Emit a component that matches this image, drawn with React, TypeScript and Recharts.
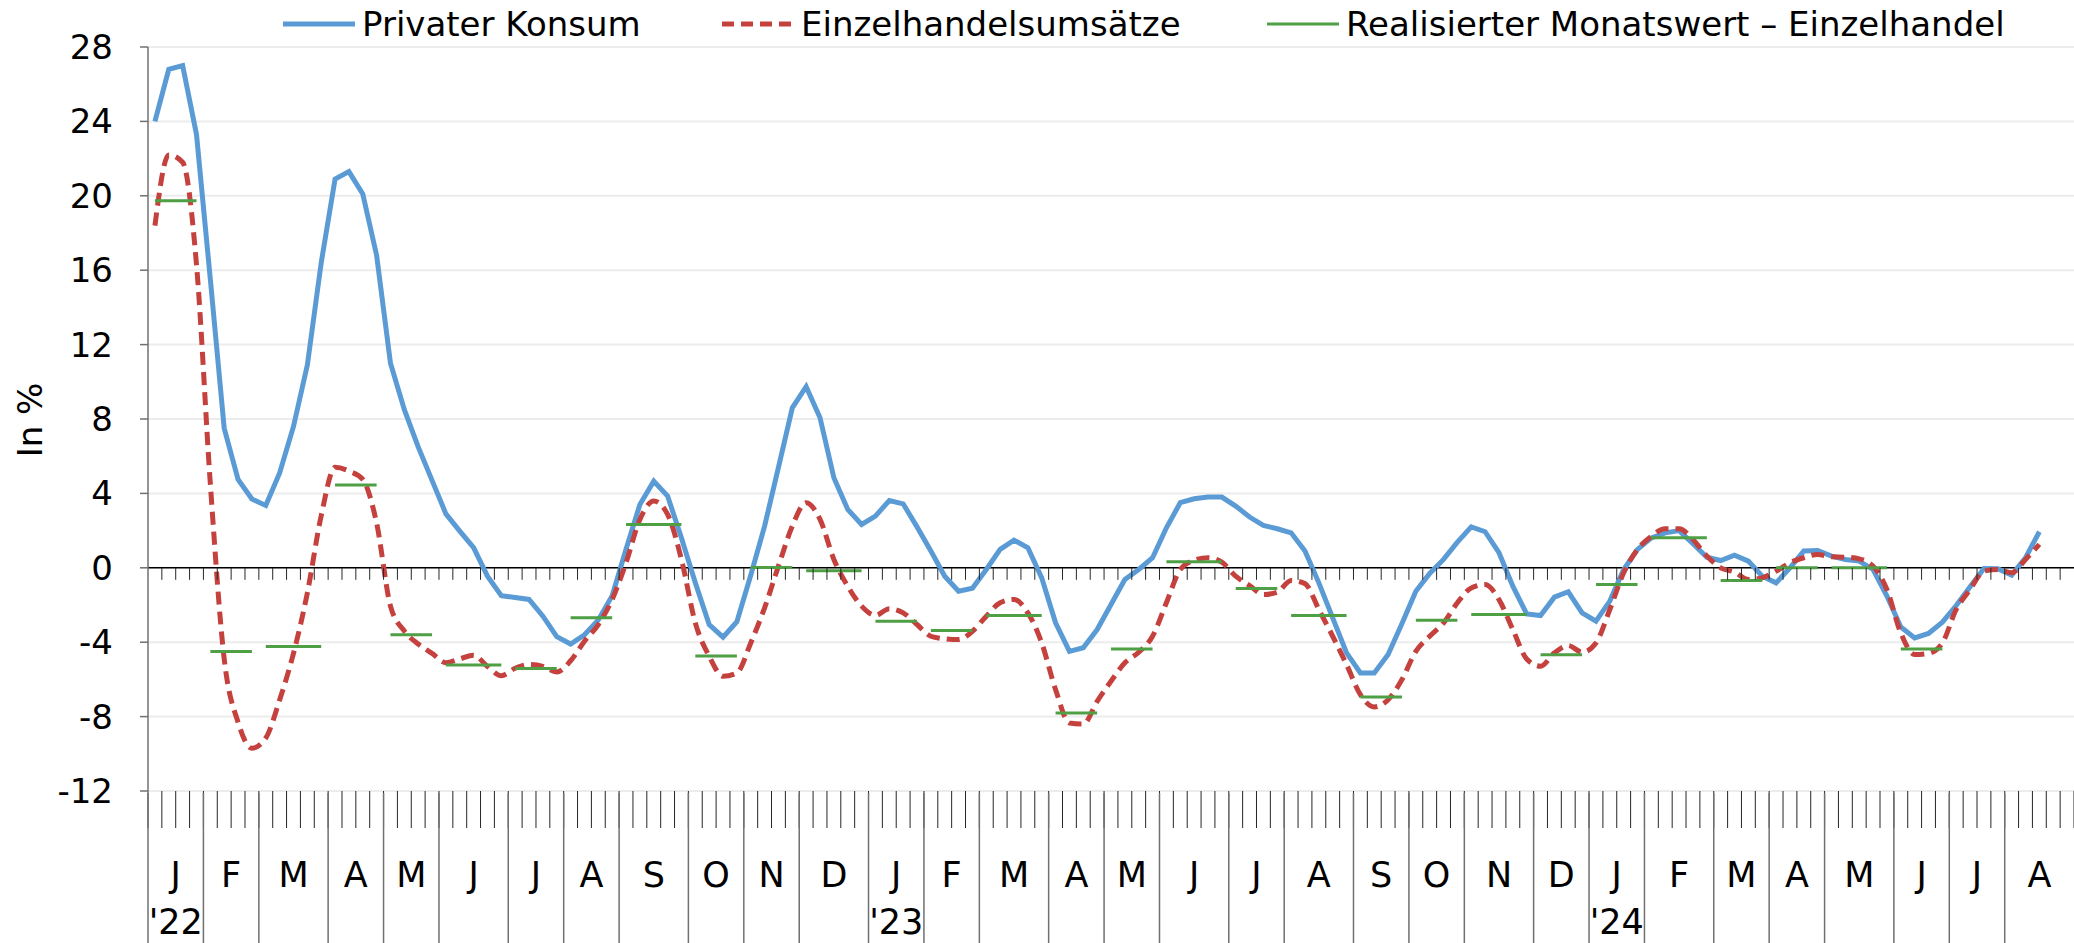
import {
  ComposedChart,
  Line,
  XAxis,
  YAxis,
  CartesianGrid,
  ReferenceLine,
  Scatter,
} from 'recharts'

// weekly values, Jan 2022 .. Aug 2024 (in %)
const privaterKonsum = [
  24.0, 26.8, 27.0, 23.3, 15.5, 7.5, 4.75, 3.7, 3.35, 5.1, 7.6, 10.9, 16.4, 20.9, 21.3, 20.1,
  16.8, 11.0, 8.5, 6.5, 4.7, 2.9, 1.97, 1.08, -0.45, -1.5, -1.6, -1.7, -2.6, -3.7, -4.1, -3.6,
  -2.8, -1.5, 1.0, 3.4, 4.66, 3.86, 1.6, -0.8, -3.05, -3.73, -2.9, -0.4, 2.24, 5.4, 8.6, 9.74,
  8.07, 4.84, 3.14, 2.33, 2.78, 3.62, 3.44, 2.2, 0.9, -0.45, -1.26, -1.1, -0.09, 0.99, 1.49, 1.08,
  -0.54, -2.96, -4.49, -4.3, -3.32, -1.97, -0.63, -0.09, 0.54, 2.15, 3.5, 3.71, 3.8, 3.8, 3.32, 2.73,
  2.28, 2.1, 1.88, 0.9, -0.81, -2.69, -4.57, -5.65, -5.65, -4.66, -3.0, -1.26, -0.3, 0.45, 1.38, 2.2,
  1.94, 0.81, -0.99, -2.48, -2.57, -1.58, -1.29, -2.42, -2.87, -1.79, -0.09, 0.99, 1.61, 1.88, 2.0, 1.3,
  0.57, 0.39, 0.68, 0.36, -0.45, -0.81, 0.0, 0.9, 0.93, 0.63, 0.45, 0.36, -0.09, -1.52, -3.18, -3.77,
  -3.53, -2.92, -2.03, -1.02, -0.04, -0.05, -0.39, 0.54, 1.94,
]

const einzelhandelsumsaetze = [
  18.4, 22.2, 21.8, 16.3, 4.5, -4.9, -8.3, -9.7, -9.15, -7.1, -4.6, -1.35, 2.8, 5.4, 5.2, 4.75,
  2.4, -2.06, -3.4, -4.1, -4.6, -5.1, -4.9, -4.7, -5.3, -5.8, -5.4, -5.2, -5.3, -5.6, -5.0, -3.95,
  -3.05, -1.7, 0.27, 2.6, 3.59, 2.87, 0.45, -2.96, -4.75, -5.83, -5.65, -4.04, -2.15, 0.09, 2.24, 3.5,
  2.6, 0.45, -0.99, -2.06, -2.56, -2.2, -2.42, -3.05, -3.68, -3.82, -3.86, -3.41, -2.6, -1.88, -1.7, -2.42,
  -4.04, -6.55, -8.34, -8.4, -7.18, -6.1, -5.11, -4.54, -3.68, -1.88, -0.09, 0.41, 0.54, 0.3, -0.45, -0.95,
  -1.44, -1.31, -0.68, -0.85, -2.24, -3.68, -5.2, -6.82, -7.48, -7.09, -6.01, -4.49, -3.68, -2.96, -1.88, -1.08,
  -0.9, -1.71, -3.32, -4.9, -5.29, -4.57, -4.18, -4.54, -4.04, -2.24, -0.27, 0.99, 1.7, 2.1, 2.1, 1.52,
  0.63, 0.0, -0.23, -0.63, -0.54, -0.18, 0.27, 0.54, 0.72, 0.59, 0.57, 0.48, 0.09, -1.17, -3.5, -4.66,
  -4.6, -4.04, -2.24, -1.17, -0.18, -0.09, -0.27, 0.45, 1.26,
]

// realised monthly value, retail (null = not yet published)
const monatswert = [
  19.74, -4.5, -4.23, 4.45, -3.6, -5.22, -5.42, -2.69, 2.33, -4.74, 0.02, -0.16,
  -2.87, -3.37, -2.57, -7.81, -4.36, 0.32, -1.11, -2.57, -6.94, -2.82, -2.51, -4.67,
  -0.9, 1.61, -0.68, 0.0, 0.0, -4.36, null, null,
]

const weeksPerMonth = [
  4, 4, 5, 4, 4, 5, 4, 4, 5, 4, 4, 5,
  4, 4, 5, 4, 4, 5, 4, 5, 4, 4, 5, 4,
  4, 5, 4, 4, 5, 4, 4, 5,
]

const monthLabels = [
  'J', 'F', 'M', 'A', 'M', 'J', 'J', 'A', 'S', 'O', 'N', 'D',
  'J', 'F', 'M', 'A', 'M', 'J', 'J', 'A', 'S', 'O', 'N', 'D',
  'J', 'F', 'M', 'A', 'M', 'J', 'J', 'A',
]

const yearLabels: Record<number, string> = { 0: "'22", 12: "'23", 24: "'24" }

const yTicks = [-12, -8, -4, 0, 4, 8, 12, 16, 20, 24, 28]

const BLUE = '#5B9BD5'
const RED = '#C4413E'
const GREEN = '#4F9F45'
const FONT = "'DejaVu Sans', sans-serif"

const monthStarts: number[] = []
const monthOfWeek: number[] = []
let total = 0
weeksPerMonth.forEach((n, m) => {
  monthStarts.push(total)
  for (let k = 0; k < n; k++) monthOfWeek.push(m)
  total += n
})
const monthCenters = monthStarts.map((s, m) => s + weeksPerMonth[m] / 2)
const weekTicks = Array.from({ length: total + 1 }, (_, i) => i)
const zeroTicks = weekTicks.slice(1, total).map((x) => ({ x, y: 0 }))

// green segments alternate between two series so neighbouring months don't join
const data = monthOfWeek.map((m, i) => ({
  x: i + 0.5,
  konsum: privaterKonsum[i] ?? null,
  einzel: einzelhandelsumsaetze[i] ?? null,
  gA: m % 2 === 0 ? monatswert[m] ?? null : null,
  gB: m % 2 === 1 ? monatswert[m] ?? null : null,
}))

const Empty = () => <g />

function MonthTick(props: any) {
  const { x, y, payload } = props
  const m = monthCenters.indexOf(payload.value)
  return (
    <g>
      <text x={x} y={y + 95} textAnchor="middle" fontSize={35} fill="#000" fontFamily={FONT}>
        {monthLabels[m]}
      </text>
      {yearLabels[m] && (
        <text x={x} y={y + 142} textAnchor="middle" fontSize={35} fill="#000" fontFamily={FONT}>
          {yearLabels[m]}
        </text>
      )}
    </g>
  )
}

function LegendItem({ left, label, color, dash, width }: { left: number; label: string; color: string; dash?: string; width: number }) {
  return (
    <div style={{ position: 'absolute', left, top: 4, height: 40, display: 'flex', alignItems: 'center' }}>
      <svg width={72} height={10} style={{ marginRight: 7 }}>
        <line x1={0} y1={5} x2={72} y2={5} stroke={color} strokeWidth={width} strokeDasharray={dash} />
      </svg>
      <span style={{ fontSize: 34, color: '#000', whiteSpace: 'nowrap' }}>{label}</span>
    </div>
  )
}

export default function App() {
  return (
    <div style={{ position: 'absolute', left: 0, top: 0, width: 2074, height: 943, background: '#fff', fontFamily: FONT }}>
      <LegendItem left={283} label="Privater Konsum" color={BLUE} width={5} />
      <LegendItem left={722} label="Einzelhandelsumsätze" color={RED} width={5} dash="12 7" />
      <LegendItem left={1267} label="Realisierter Monatswert – Einzelhandel" color={GREEN} width={3} />
      <div
        style={{
          position: 'absolute',
          left: 30,
          top: 420,
          transform: 'translate(-50%, -50%) rotate(-90deg)',
          fontSize: 34,
          color: '#000',
          whiteSpace: 'nowrap',
        }}
      >
        In %
      </div>
      <ComposedChart width={2074} height={943} data={data} margin={{ top: 47, right: 0, bottom: 149, left: 0 }}>
        <CartesianGrid vertical={false} stroke="#ECECEC" strokeWidth={2} />
        <XAxis
          dataKey="x"
          type="number"
          domain={[0, total]}
          allowDataOverflow
          ticks={weekTicks}
          interval={0}
          height={1}
          tickSize={37}
          axisLine={false}
          tickLine={{ stroke: '#262626', strokeWidth: 1 }}
          tick={Empty}
        />
        <XAxis
          xAxisId="months"
          dataKey="x"
          type="number"
          domain={[0, total]}
          allowDataOverflow
          ticks={monthStarts}
          interval={0}
          height={1}
          tickSize={151}
          axisLine={false}
          tickLine={{ stroke: '#707070', strokeWidth: 1.5 }}
          tick={Empty}
        />
        <XAxis
          xAxisId="labels"
          dataKey="x"
          type="number"
          domain={[0, total]}
          allowDataOverflow
          ticks={monthCenters}
          interval={0}
          height={1}
          tickSize={0}
          tickMargin={0}
          axisLine={false}
          tickLine={false}
          tick={MonthTick}
        />
        <YAxis
          domain={[-12, 28]}
          ticks={yTicks}
          interval={0}
          allowDataOverflow
          width={148}
          tickSize={8}
          tickMargin={27}
          axisLine={{ stroke: '#707070', strokeWidth: 1.5 }}
          tickLine={{ stroke: '#707070', strokeWidth: 1.5 }}
          tick={{ fontSize: 34, fill: '#000', fontFamily: FONT }}
        />
        <ReferenceLine y={0} stroke="#000" strokeWidth={1.5} />
        <Scatter
          data={zeroTicks}
          dataKey="y"
          isAnimationActive={false}
          shape={(p: any) => <line x1={p.cx} y1={p.cy} x2={p.cx} y2={p.cy + 12} stroke="#262626" strokeWidth={1} />}
        />
        <Line
          type="linear"
          dataKey="konsum"
          stroke={BLUE}
          strokeWidth={5}
          dot={false}
          activeDot={false}
          isAnimationActive={false}
        />
        <Line
          type="monotone"
          dataKey="einzel"
          stroke={RED}
          strokeWidth={5}
          strokeDasharray="13 7"
          dot={false}
          activeDot={false}
          isAnimationActive={false}
        />
        <Line type="linear" dataKey="gA" stroke={GREEN} strokeWidth={3} dot={false} activeDot={false} connectNulls={false} isAnimationActive={false} />
        <Line type="linear" dataKey="gB" stroke={GREEN} strokeWidth={3} dot={false} activeDot={false} connectNulls={false} isAnimationActive={false} />
      </ComposedChart>
    </div>
  )
}
